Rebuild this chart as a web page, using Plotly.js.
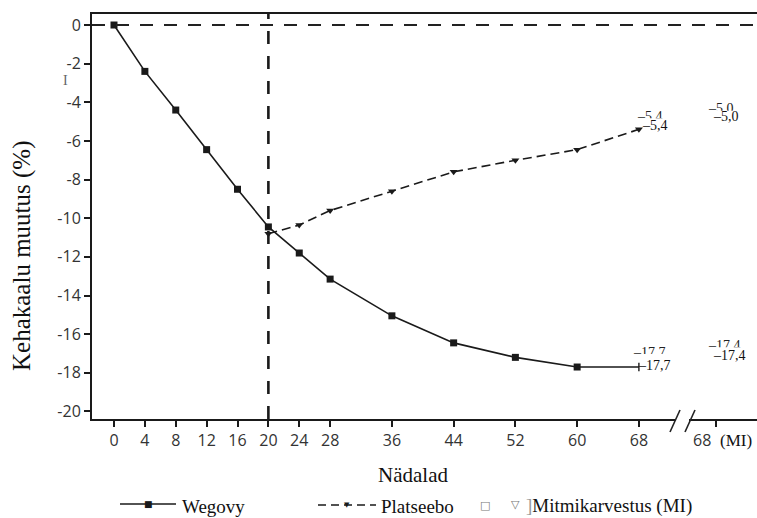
<!DOCTYPE html>
<html><head><meta charset="utf-8">
<script src="https://cdn.plot.ly/plotly-3.0.1.min.js"></script>
<style>html,body{margin:0;padding:0;background:#fff}#chart{width:757px;height:518px}</style>
</head><body><div id="chart"></div>
<script>
// ---- data ----
const weeks = [0, 4, 8, 12, 16, 20, 24, 28, 36, 44, 52, 60, 68];
const wegovy = [0, -2.4, -4.4, -6.45, -8.5, -10.45, -11.8, -13.15, -15.05, -16.45, -17.2, -17.7, -17.7];
const placeboWeeks = [20, 24, 28, 36, 44, 52, 60, 68];
const placebo = [-10.8, -10.35, -9.6, -8.6, -7.6, -7.0, -6.45, -5.4];
const miWegovy = -17.4;
const miPlacebo = -5.0;
const xTickVals = [0, 4, 8, 12, 16, 20, 24, 28, 36, 44, 52, 60, 68];
const xTickText = ['0', '4', '8', '12', '16', '20', '24', '28', '36', '44', '52', '60', '68'];
const yTickVals = [0, -2, -4, -6, -8, -10, -12, -14, -16, -18, -20];
const yTickText = ['0', '-2', '-4', '-6', '-8', '-10', '-12', '-14', '-16', '-18', '-20'];
const xTitle = 'Nädalad';
const yTitle = 'Kehakaalu muutus (%)';
const seriesNames = ['Wegovy', 'Platseebo', 'Mitmikarvestus (MI)'];
const miTickLabel = ['68', '(MI)'];
const randomWeek = 20;

// ---- layout constants ----
const MI_X = 78;
const W = 757, H = 518, ML = 92, MR = 0, MT = 14, MB = 99;
const PW = W - ML - MR, PH = H - MT - MB;
const XR = [-2.85, 83.3], YR = [-20.39, 0.57];
const XS = PW / (XR[1] - XR[0]), YS = PH / (YR[1] - YR[0]);
const px = x => (x - ML) / PW;
const py = y => (H - MB - y) / PH;
const SERIF = 'Liberation Serif, Times New Roman, serif';
const SANS = 'Open Sans, sans-serif';
const fmt = v => '\u2013' + Math.abs(v).toFixed(1).replace('.', ',');
const INK = '#1a1a1a';

// Wegovy: square markers, last point ends with a small end cap instead of a square
const lastI = weeks.length - 1;
const wegSizes = weeks.map((w, i) => i === lastI ? 0 : 7);

const traces = [
  {x: weeks, y: wegovy, name: seriesNames[0], type: 'scatter', mode: 'lines+markers',
   line: {color: INK, width: 1.6},
   marker: {symbol: 'square', size: wegSizes, sizemode: 'diameter', sizeref: 1, opacity: 1, color: INK, line: {width: 0}}},
  {x: [weeks[lastI]], y: [wegovy[lastI]], type: 'scatter', mode: 'markers', showlegend: false, hoverinfo: 'skip',
   marker: {symbol: 'line-ns-open', size: 6, color: INK, line: {color: INK, width: 1.4}}},
  {x: placeboWeeks, y: placebo, name: seriesNames[1], type: 'scatter', mode: 'lines+markers',
   line: {color: INK, width: 1.6, dash: '9px,5px'}, marker: {symbol: 'triangle-down', size: 7, color: INK}}
];

const ann = [];
const shapes = [];
function txt(t, x, y, size, opts) {
  ann.push(Object.assign({text: t, x: px(x), y: py(y), xref: 'paper', yref: 'paper', showarrow: false,
    xanchor: 'center', yanchor: 'middle', font: {family: SERIF, size: size, color: '#111'}}, opts || {}));
}
txt(yTitle, 22, 256, 25, {textangle: -90});
txt(xTitle, 413, 475, 21);
txt('I', 65, 80, 14, {font: {family: SERIF, size: 14, color: '#666'}});
// legend
txt('\u25A0', 148, 504, 9, {font: {family: 'DejaVu Sans', size: 9, color: INK}});
txt(seriesNames[0], 180, 506, 19, {xanchor: 'left'});
txt('\u25BC', 347, 505, 7, {font: {family: 'DejaVu Sans', size: 7, color: INK}});
txt(seriesNames[1], 379, 506, 19, {xanchor: 'left'});
txt('\u25A1', 485, 505, 11, {font: {family: 'DejaVu Sans', size: 11, color: '#777'}});
txt('\u25BD', 515, 504, 11, {font: {family: 'DejaVu Sans', size: 11, color: '#777'}});
txt("<span style='color:#999'>]</span>" + seriesNames[2], 524, 506, 19, {xanchor: 'left'});
// MI tick label
ann.push({text: miTickLabel[0], x: MI_X, xref: 'x', y: py(440), yref: 'paper', xshift: -14, showarrow: false,
  xanchor: 'center', yanchor: 'middle', font: {family: SANS, size: 16, color: '#333'}});
ann.push({text: miTickLabel[1], x: MI_X, xref: 'x', y: py(440), yref: 'paper', xshift: 20, showarrow: false,
  xanchor: 'center', yanchor: 'middle', font: {family: SERIF, size: 17, color: '#111'}});

// end value labels, with a clipped duplicate above each (as in the source scan)
const ghostX = [], ghostY = [], ghostT = [];
function endLabel(x, v, xs, ys, lift) {
  ann.push({text: fmt(v), x: x, y: v, xref: 'x', yref: 'y', showarrow: false, xanchor: 'left', yanchor: 'middle',
    xshift: xs, yshift: ys, borderpad: 0, font: {family: SERIF, size: 14, color: '#111'}});
  const gy = v + (ys + lift) / YS;
  ghostX.push(x + (xs - 3) / XS); ghostY.push(gy); ghostT.push(fmt(v));
  shapes.push({type: 'rect', layer: 'above', xref: 'x', yref: 'y', x0: x + (xs - 2) / XS, x1: x + (xs + 36) / XS,
    y0: gy - 9 / YS, y1: gy - 1 / YS, fillcolor: '#fff', line: {width: 0}});
}
endLabel(weeks[lastI], placebo[placebo.length - 1], 2, 4, 8);
endLabel(weeks[lastI], wegovy[lastI], -2, 2, 12);
endLabel(MI_X, miPlacebo, -4, 5, 7);
endLabel(MI_X, miWegovy, -4, 6, 9);
traces.push({x: ghostX, y: ghostY, text: ghostT, type: 'scatter', mode: 'text', textposition: 'middle right',
  textfont: {family: SERIF, size: 14, color: '#222'}, hoverinfo: 'skip', showlegend: false});

shapes.push(
  {type: 'line', xref: 'paper', x0: 0, x1: 1, yref: 'y', y0: 0, y1: 0, line: {color: '#222', width: 2.2, dash: '13px,11px'}},
  {type: 'line', xref: 'x', x0: randomWeek, x1: randomWeek, yref: 'paper', y0: 0, y1: 1, line: {color: INK, width: 2.6, dash: '13px,12px'}},
  // axis break
  {type: 'rect', xref: 'paper', x0: px(676), x1: px(689), yref: 'paper', y0: py(423), y1: py(415), fillcolor: '#fff', line: {width: 0}},
  {type: 'line', xref: 'paper', x0: px(670), x1: px(680), yref: 'paper', y0: py(432), y1: py(410), line: {color: '#222', width: 1.6}},
  {type: 'line', xref: 'paper', x0: px(685), x1: px(695), yref: 'paper', y0: py(432), y1: py(410), line: {color: '#222', width: 1.6}},
  // legend samples
  {type: 'line', xref: 'paper', x0: px(120), x1: px(176), yref: 'paper', y0: py(504), y1: py(504), line: {color: INK, width: 1.6}},
  {type: 'line', xref: 'paper', x0: px(318), x1: px(376), yref: 'paper', y0: py(505), y1: py(505), line: {color: INK, width: 1.6, dash: '8px,5px'}}
);

const layout = {
  width: W, height: H, margin: {l: ML, r: MR, t: MT, b: MB, pad: 0},
  paper_bgcolor: '#fff', plot_bgcolor: '#fff', showlegend: false,
  xaxis: {range: XR, tickmode: 'array', tickvals: xTickVals.concat([MI_X]), ticktext: xTickText.concat(['']),
    showgrid: false, zeroline: false, showline: true, mirror: true, linecolor: INK, linewidth: 2,
    ticks: 'outside', ticklen: 6, tickwidth: 2, tickcolor: INK,
    tickfont: {family: SANS, size: 16, color: '#333'}},
  yaxis: {range: YR, tickmode: 'array', tickvals: yTickVals, ticktext: yTickText,
    showgrid: false, zeroline: false, showline: true, mirror: false, linecolor: INK, linewidth: 2,
    ticks: 'outside', ticklen: 6, tickwidth: 2, tickcolor: INK,
    tickfont: {family: SANS, size: 16, color: '#333'}},
  annotations: ann, shapes: shapes
};
Plotly.newPlot('chart', traces, layout, {staticPlot: true, displayModeBar: false});
</script></body></html>
